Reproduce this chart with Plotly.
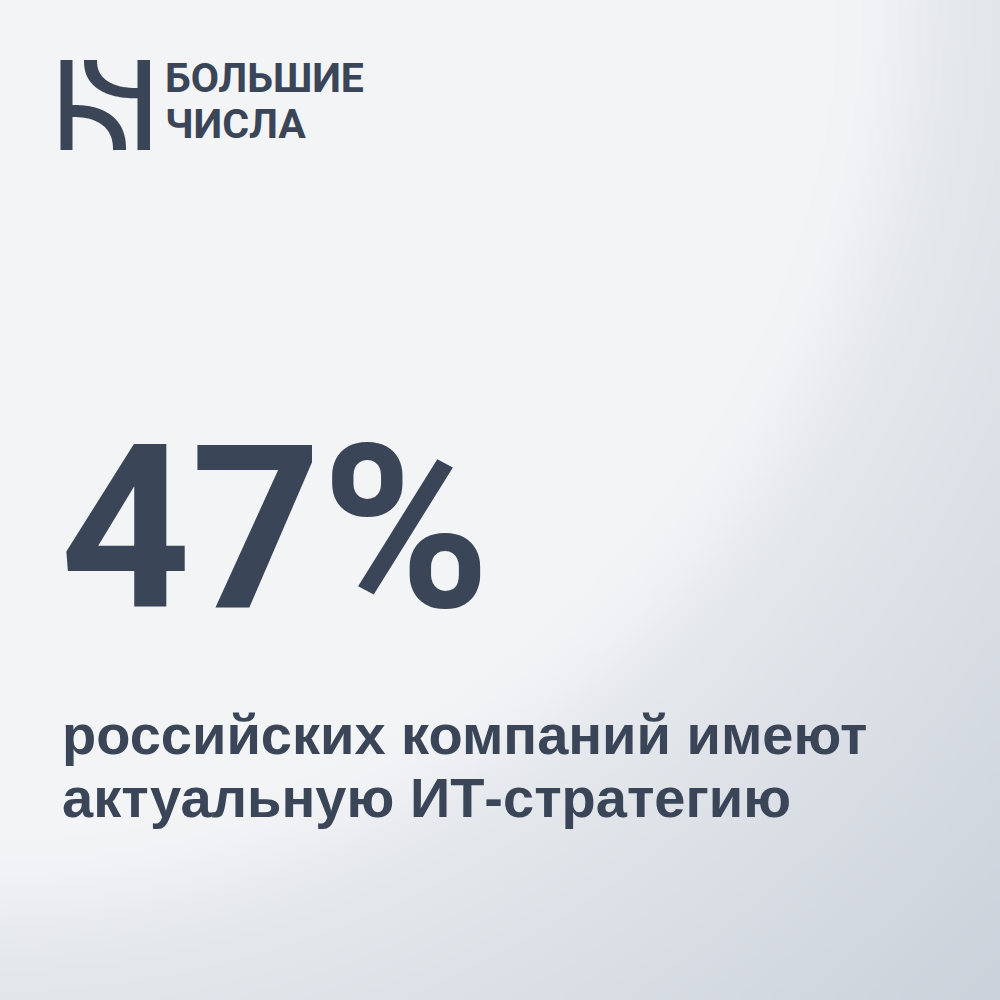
import base64, struct, zlib
import numpy as np
import plotly.graph_objects as go

# ---- content ----
share_value = [47]
value_suffix = ["%"]
caption_lines = ["российских компаний имеют", "актуальную ИТ-стратегию"]
brand_lines = ["БОЛЬШИЕ", "ЧИСЛА"]

INK = "#3a4557"
W = H = 1000


# ---- background gradient as an inline PNG ----
def png_uri(arr):
    h, w, _ = arr.shape
    raw = b"".join(b"\x00" + arr[i].tobytes() for i in range(h))

    def chunk(tag, data):
        c = struct.pack(">I", len(data)) + tag + data
        return c + struct.pack(">I", zlib.crc32(tag + data) & 0xFFFFFFFF)

    png = b"\x89PNG\r\n\x1a\n" + chunk(b"IHDR", struct.pack(">IIBBBBB", w, h, 8, 2, 0, 0, 0))
    png += chunk(b"IDAT", zlib.compress(raw, 9)) + chunk(b"IEND", b"")
    return "data:image/png;base64," + base64.b64encode(png).decode()


N = 250
yy, xx = np.mgrid[0:N, 0:N] * (W / N)
d = np.hypot(xx + 20, yy + 20)
t1 = np.clip((d - 860) / 140, 0, 1)
t1 = t1 * t1 * (3 - 2 * t1)
t2 = np.clip((d - 1000) / 430, 0, 1)
f = 0.38 * t1 + 0.62 * t2
light = np.array([243, 244, 246], float)
dark = np.array([203, 210, 219], float)
img = (light[None, None, :] * (1 - f[..., None]) + dark[None, None, :] * f[..., None]).astype(np.uint8)
bg_uri = png_uri(img)


# ---- logo geometry helpers ----
def quarter_ring(cx, cy, a_out, b_out, a_in, b_in, upper, n=2.4):
    th = np.linspace(0, np.pi / 2, 48)
    c = np.cos(th) ** (2 / n)
    s = np.sin(th) ** (2 / n)
    if upper:
        ox = cx - a_out * c; oy = cy + b_out * s
        ix = cx - a_in * c[::-1]; iy = cy + b_in * s[::-1]
    else:
        ox = cx + a_out * c; oy = cy - b_out * s
        ix = cx + a_in * c[::-1]; iy = cy - b_in * s[::-1]
    pts = list(zip(ox, oy)) + list(zip(ix, iy))
    return "M " + " L ".join(f"{x:.2f},{y:.2f}" for x, y in pts) + " Z"


shapes = [
    dict(type="rect", x0=60.5, x1=72.5, y0=60, y1=150),
    dict(type="rect", x0=137.5, x1=150, y0=60, y1=150),
    dict(type="path", path=quarter_ring(138, 60, 54, 38.3, 41, 28.0, True)),
    dict(type="path", path=quarter_ring(72, 150, 54, 45.0, 41, 33.0, False)),
]
for s in shapes:
    s.update(xref="x", yref="y", fillcolor=INK, line=dict(width=0), layer="above")

BRAND_FONT = "Roboto, Liberation Sans, sans-serif"
BIG_FONT = "Roboto, Liberation Sans, sans-serif"
SANS = "Liberation Sans, Roboto, sans-serif"

annotations = []
for i, line in enumerate(brand_lines):
    annotations.append(dict(
        x=163, y=78 + i * 46, xref="x", yref="y", text=f"<b>{line}</b>",
        xanchor="left", yanchor="middle", showarrow=False,
        font=dict(family=BRAND_FONT, size=41, color=INK)))

annotations.append(dict(
    x=58, y=529, xref="x", yref="y",
    text=f"<b>{share_value[0]}{value_suffix[0]}</b>",
    xanchor="left", yanchor="middle", showarrow=False,
    font=dict(family=BIG_FONT, size=228, color=INK)))

for i, line in enumerate(caption_lines):
    annotations.append(dict(
        x=60, y=734 + i * 63, xref="x", yref="y", text=f"<b>{line}</b>",
        xanchor="left", yanchor="middle", showarrow=False,
        font=dict(family=SANS, size=56, color=INK)))

fig = go.Figure()
fig.add_trace(go.Scatter(x=[0, W], y=[0, H], mode="markers", marker=dict(opacity=0), hoverinfo="skip"))
fig.update_layout(
    width=W, height=H, margin=dict(l=0, r=0, t=0, b=0),
    paper_bgcolor="#f2f4f6", plot_bgcolor="rgba(0,0,0,0)",
    showlegend=False,
    xaxis=dict(range=[0, W], visible=False, fixedrange=True),
    yaxis=dict(range=[H, 0], visible=False, fixedrange=True),
    images=[dict(source=bg_uri, xref="paper", yref="paper", x=0, y=1, sizex=1, sizey=1,
                 sizing="stretch", layer="below", xanchor="left", yanchor="top")],
    shapes=shapes, annotations=annotations,
)
fig.write_html(
    "out.html",
    config=dict(displayModeBar=False),
    post_script="document.body.style.margin='0';document.body.style.padding='0';document.body.style.overflow='hidden';",
)
